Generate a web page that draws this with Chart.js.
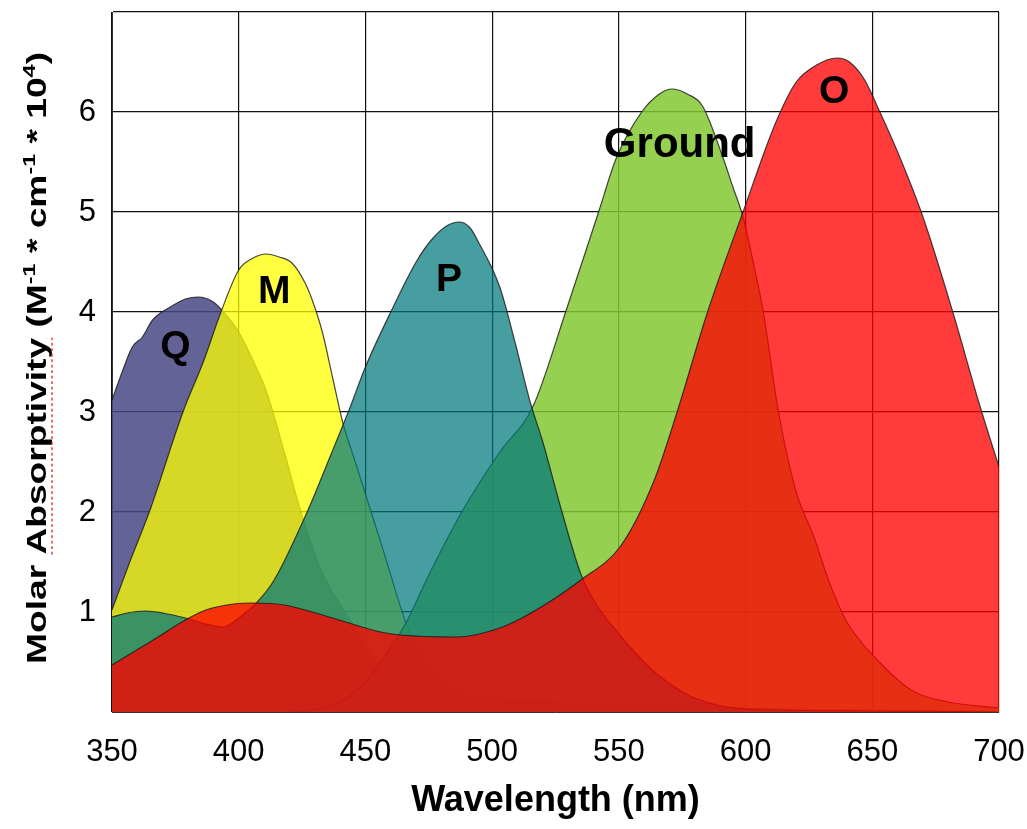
<!DOCTYPE html>
<html>
<head>
    <title>Molar Absorptivity</title>
    <style>
        html, body { margin: 0; padding: 0; background: #fff; }
        .chart-container { width: 1027px; height: 829px; }
    </style>
    <script src="https://cdn.jsdelivr.net/npm/chart.js"></script>
</head>
<body>
    <div class="chart-container">
        <canvas id="chart"></canvas>
    </div>
    <script>
        // wavelength (nm) / absorptivity, one pair of arrays per curve
        const qWave = [350, 354, 358, 362, 366, 373, 379, 384, 390, 394, 400, 405, 411, 418, 424, 432, 444, 455, 471, 490, 503, 550, 600, 650, 700];
        const qAbs  = [3.12, 3.4, 3.65, 3.75, 3.92, 4.05, 4.13, 4.15, 4.1, 4.0, 3.8, 3.55, 3.2, 2.6, 2.05, 1.45, 0.92, 0.5, 0.22, 0.14, 0.12, 0.07, 0.04, 0.02, 0.01];

        const mWave = [350, 357, 365, 378, 386, 393, 400, 405, 411, 416, 421, 426, 429, 433, 437, 441, 446, 451, 457, 466, 472, 480, 490, 500, 520, 550, 600, 700];
        const mAbs  = [1.02, 1.5, 2.02, 3.0, 3.5, 4.0, 4.42, 4.53, 4.58, 4.55, 4.49, 4.3, 4.12, 3.8, 3.35, 2.9, 2.5, 2.1, 1.62, 0.89, 0.55, 0.3, 0.18, 0.12, 0.07, 0.04, 0.02, 0];

        const gWave = [350, 420, 440, 450, 460, 466, 475, 488, 503, 516, 529, 542, 549, 559, 566, 571, 577, 583, 591, 595, 599, 603, 607, 613, 620, 627, 633, 640, 652, 666, 680, 700];
        const gAbs  = [0, 0, 0.1, 0.3, 0.65, 0.89, 1.37, 2.0, 2.6, 3.05, 4.0, 5.0, 5.54, 6.0, 6.18, 6.23, 6.18, 6.06, 5.55, 5.25, 4.95, 4.5, 4.0, 3.0, 2.2, 1.75, 1.3, 0.9, 0.52, 0.21, 0.1, 0.04];

        const pWave = [350, 356, 363, 370, 379, 387, 394, 398, 403, 407, 414, 427, 436, 444, 450, 460, 470, 476, 482, 487, 491, 495, 503, 509, 515, 520, 527, 535, 540, 550, 558, 565, 579, 600, 650, 700];
        const pAbs  = [0.95, 0.99, 1.01, 0.99, 0.94, 0.88, 0.85, 0.9, 1.0, 1.09, 1.32, 2.0, 2.55, 3.05, 3.45, 4.0, 4.5, 4.72, 4.86, 4.9, 4.85, 4.68, 4.25, 3.7, 3.1, 2.7, 2.05, 1.38, 1.12, 0.78, 0.55, 0.38, 0.15, 0.03, 0.01, 0];

        const oWave = [350, 365, 379, 387, 398, 406, 418, 437, 456, 464, 486, 503, 516, 535, 551, 564, 573, 585, 599, 612, 620, 628, 636, 641, 647, 653, 660, 670, 682, 692, 700];
        const oAbs  = [0.47, 0.7, 0.92, 1.02, 1.08, 1.09, 1.07, 0.94, 0.8, 0.77, 0.75, 0.84, 1.0, 1.32, 1.67, 2.32, 3.0, 4.0, 5.0, 5.9, 6.3, 6.47, 6.54, 6.5, 6.32, 6.0, 5.6, 4.95, 3.98, 3.1, 2.45];

        const curveNames = ['Q', 'M', 'Ground', 'P', 'O'];
        const xTickValues = [350, 400, 450, 500, 550, 600, 650, 700];
        const yTickValues = [1, 2, 3, 4, 5, 6];

        const ctx = document.getElementById('chart').getContext('2d');

        function toPoints(xs, ys) {
            return xs.map((x, i) => ({ x: x, y: ys[i] }));
        }

        // bottom to top
        const series = [
            { wave: qWave, abs: qAbs, color: 'rgba(72, 72, 134, 0.85)' },
            { wave: mWave, abs: mAbs, color: 'rgba(255, 255, 0, 0.75)' },
            { wave: gWave, abs: gAbs, color: 'rgba(130, 200, 50, 0.85)' },
            { wave: pWave, abs: pAbs, color: 'rgba(0, 120, 123, 0.72)' },
            { wave: oWave, abs: oAbs, color: 'rgba(255, 0, 0, 0.77)' }
        ];

        const sans = '"Liberation Sans", Arial, sans-serif';

        // where the curve names sit, in data units
        const namePos = {
            Q: [375, 3.65], M: [414, 4.2], P: [483, 4.32], Ground: [574, 5.67], O: [635, 6.2]
        };

        const curveNamePlugin = {
            id: 'curveNames',
            afterDatasetsDraw(chart) {
                const c = chart.ctx;
                const xs = chart.scales.x, ys = chart.scales.y;
                c.save();
                c.fillStyle = '#000';
                c.textAlign = 'center';
                c.textBaseline = 'middle';
                curveNames.forEach(name => {
                    const p = namePos[name];
                    c.font = 'bold ' + (name === 'Ground' ? 42 : 39) + 'px ' + sans;
                    c.fillText(name, xs.getPixelForValue(p[0]), ys.getPixelForValue(p[1]));
                });
                c.restore();
            }
        };

        // y title with superscripts, drawn by hand
        const yTitlePlugin = {
            id: 'yTitle',
            afterDraw(chart) {
                const c = chart.ctx;
                const parts = [
                    ['Molar Absorptivity (M', false], ['-1', true], [' * cm', false],
                    ['-1', true], [' * 10', false], ['4', true], [')', false]
                ];
                const big = 'bold 27px ' + sans;
                const small = 'bold 17px ' + sans;
                c.save();
                let total = 0;
                const widths = parts.map(p => {
                    c.font = p[1] ? small : big;
                    const w = c.measureText(p[0]).width;
                    total += w;
                    return w;
                });
                c.font = big;
                const wordStart = c.measureText('Molar ').width;
                const wordEnd = c.measureText('Molar Absorptivity').width;

                c.translate(46, 358);
                c.rotate(-Math.PI / 2);
                c.scale(612 / total, 1);
                c.fillStyle = '#000';
                c.textBaseline = 'alphabetic';
                let x = -total / 2;
                parts.forEach((p, i) => {
                    c.font = p[1] ? small : big;
                    c.fillText(p[0], x, p[1] ? -11 : 0);
                    x += widths[i];
                });
                // spell-check squiggle under the long word
                c.strokeStyle = 'rgba(230, 40, 40, 0.9)';
                c.lineWidth = 1.5;
                c.setLineDash([2, 2]);
                c.beginPath();
                c.moveTo(-total / 2 + wordStart, 6);
                c.lineTo(-total / 2 + wordEnd, 6);
                c.stroke();
                c.restore();
            }
        };

        const chart = new Chart(ctx, {
            type: 'line',
            data: {
                datasets: series.map((s, i) => ({
                    label: curveNames[i],
                    data: toPoints(s.wave, s.abs),
                    backgroundColor: s.color,
                    borderColor: 'rgba(25, 25, 25, 0.8)',
                    borderWidth: 1.2,
                    fill: 'origin',
                    pointRadius: 0,
                    cubicInterpolationMode: 'monotone',
                    order: series.length - i
                }))
            },
            options: {
                responsive: true,
                maintainAspectRatio: false,
                animation: false,
                layout: { padding: { left: 0, right: 28, top: 12, bottom: 0 } },
                plugins: {
                    legend: { display: false },
                    tooltip: { enabled: false }
                },
                scales: {
                    x: {
                        type: 'linear',
                        position: 'bottom',
                        min: 350,
                        max: 700,
                        z: 1,
                        afterBuildTicks: scale => {
                            scale.ticks = xTickValues.map(v => ({ value: v }));
                        },
                        afterFit: scale => {
                            scale.height = 117;
                            scale.paddingLeft = 0;
                            scale.paddingRight = 0;
                        },
                        grid: { color: '#111', lineWidth: 1.2, drawTicks: false },
                        border: { display: true, color: '#333', width: 1 },
                        ticks: {
                            padding: 22,
                            color: '#000',
                            font: { family: sans, size: 31 },
                            maxRotation: 0
                        },
                        title: {
                            display: true,
                            text: 'Wavelength (nm)',
                            color: '#000',
                            font: { family: sans, size: 36, weight: 'bold' },
                            padding: { top: 0, bottom: 6 }
                        }
                    },
                    y: {
                        min: 0,
                        max: 7,
                        z: 1,
                        afterBuildTicks: scale => {
                            scale.ticks = [0].concat(yTickValues, [7]).map(v => ({ value: v }));
                        },
                        afterFit: scale => {
                            scale.width = 112;
                            scale.paddingTop = 0;
                            scale.paddingBottom = 0;
                        },
                        grid: { color: '#111', lineWidth: 1.2, drawTicks: false },
                        border: { display: true, color: '#333', width: 1 },
                        ticks: {
                            padding: 16,
                            color: '#000',
                            font: { family: sans, size: 31 },
                            callback: v => (yTickValues.includes(v) ? String(v) : '')
                        }
                    }
                }
            },
            plugins: [curveNamePlugin, yTitlePlugin]
        });
    </script>
</body>
</html>
